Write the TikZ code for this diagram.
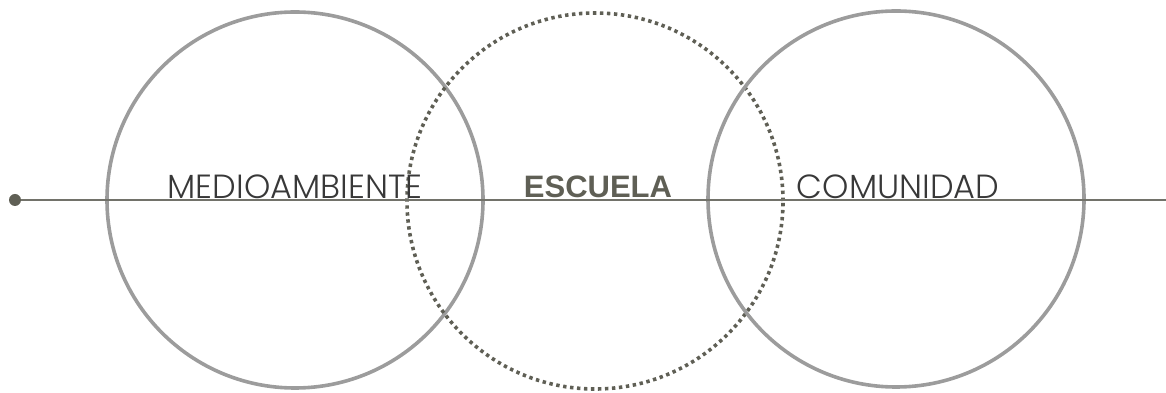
\documentclass[tikz,border=0pt]{standalone}
\usepackage{fontspec}
\newfontfamily\thinfont{Poppins}[UprightFont=* Light]
\newfontfamily\boldfont{Liberation Sans}[UprightFont=* Bold]
\definecolor{ringgray}{HTML}{9C9C9C}
\definecolor{olive}{HTML}{5F5F55}
\definecolor{linegray}{HTML}{72726A}
\definecolor{textgray}{HTML}{383838}
\begin{document}
\begin{tikzpicture}[x=1pt,y=1pt,
  ring/.style={circle,draw=ringgray,line width=3.6pt,minimum size=376pt,inner sep=0pt},
  dotring/.style={circle,draw=olive,line width=3.6pt,dash pattern=on 3.4pt off 3.6pt,minimum size=376pt,inner sep=0pt},
  lbl/.style={anchor=base,inner sep=0pt,text=textgray,font=\thinfont\fontsize{33.5}{33.5}\selectfont},
  blbl/.style={anchor=base,inner sep=0pt,text=olive,font=\boldfont\fontsize{31}{31}\selectfont}]
\useasboundingbox (0,0) rectangle (1166,393);
\node[ring] (left) at (295,193) {};
\node[dotring] (mid) at (595,192) {};
\node[ring] (right) at (896,194) {};
\node[circle,fill=olive,minimum size=12pt,inner sep=0pt] (dot) at (15,193) {};
\coordinate (end) at (1166,193);
\draw[linegray,line width=1.8pt] (dot) -- (end);
\node[lbl] (t1) at (295,194) {MEDIOAMBIENTE};
\node[blbl] (t2) at (598,195) {ESCUELA};
\node[lbl] (t3) at (898,194) {COMUNIDAD};
\end{tikzpicture}
\end{document}
